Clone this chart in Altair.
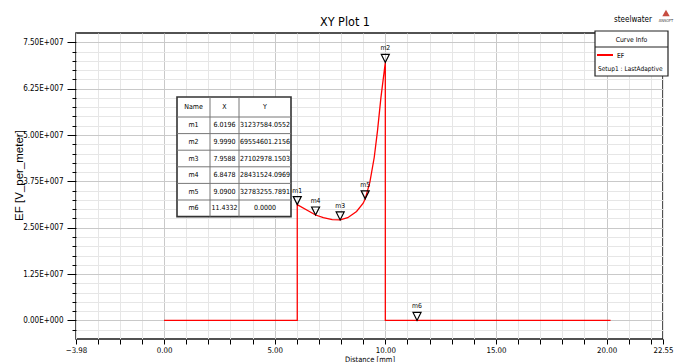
import altair as alt
import pandas as pd

# ---- field magnitude sampled along the line ----
distance_mm = [0.0, 6.0196, 6.0196, 6.8478, 7.2, 7.6, 7.9588, 8.3, 8.7, 9.0,
               9.09, 9.3, 9.5, 9.65, 9.8, 9.999, 10.0, 20.18]
ef_v_per_m = [0.0, 0.0, 31237584.0552, 28431524.0969, 27700000.0, 27200000.0,
              27102978.1503, 27700000.0, 29400000.0, 31600000.0, 32783255.7891,
              37200000.0, 44000000.0, 51300000.0, 60000000.0, 69554601.2156, 0.0, 0.0]

# ---- markers ----
marker_names = ["m1", "m2", "m3", "m4", "m5", "m6"]
marker_x = [6.0196, 9.9990, 7.9588, 6.8478, 9.0900, 11.4332]
marker_y = [31237584.0552, 69554601.2156, 27102978.1503, 28431524.0969, 32783255.7891, 0.0]

# ---- axes ----
x_domain = [-3.98, 22.55]
x_labelled = [-3.98, 0.0, 5.0, 10.0, 15.0, 20.0, 22.55]
y_domain = [-5000000, 77500000]
y_major_step = 12500000
y_minor_step = 2500000

plot_title = "XY Plot 1"
curve_name = "EF"
setup_name = "Setup1 : LastAdaptive"
project_name = "steelwater"

W, H = 587, 306
COND = "DejaVu Sans Condensed, Liberation Sans Narrow, sans-serif"
REGULAR = "Liberation Sans, Arial, sans-serif"

x_ticks = sorted(set(x_labelled) | set(range(-3, 23)))
y_ticks = [y_domain[0] + y_minor_step * k for k in range(1, 33)]

xs = alt.Scale(domain=x_domain, nice=False, zero=False)
ys = alt.Scale(domain=y_domain, nice=False, zero=False)

x_axis = alt.Axis(
    values=x_ticks,
    labelExpr="(abs(datum.value % 5) < 1e-6 || datum.value < -3.5 || datum.value > 22.2) ? format(datum.value, '.2f') : ''",
    tickSize=5, tickColor="black", tickWidth=1,
    labelFont=COND, labelFontSize=7.8, labelColor="black", labelPadding=2,
    labelFlush=False, labelOverlap=False, labelBound=False,
    grid=True,
    gridColor={"condition": {"test": "abs(datum.value % 5) < 1e-6", "value": "#c9c9c9"}, "value": "#e6e6e6"},
    gridWidth=1, domain=False,
    title="Distance [mm]", titleFont=COND, titleFontSize=7.5, titleFontWeight="normal",
    titleColor="black", titleBaseline="top", titleY=16,
)

y_axis = alt.Axis(
    values=y_ticks,
    labelExpr=("(abs(datum.value % 12500000) < 1 && datum.value >= 0) ? "
               "(datum.value == 0 ? '0.00E+000' : format(datum.value / 1e7, '.2f') + 'E+007') : ''"),
    tickSize={"condition": {"test": "abs(datum.value % 12500000) < 1", "value": 9}, "value": 4},
    tickColor="black", tickWidth=1,
    labelFont=COND, labelFontSize=8, labelColor="black", labelPadding=4,
    labelOverlap=False, labelBound=False,
    grid=True,
    gridColor={"condition": {"test": "abs(datum.value % 12500000) < 1", "value": "#c9c9c9"}, "value": "#e6e6e6"},
    gridWidth=1, domain=False,
    title="EF [V_per_meter]", titleFont=REGULAR, titleFontSize=11.5, titleFontWeight="normal",
    titleColor="black", titleX=-57, titleY=142, titleAlign="center", titleBaseline="middle",
)

curve_df = pd.DataFrame({"d": distance_mm, "ef": ef_v_per_m, "i": range(len(distance_mm))})
marker_df = pd.DataFrame({"name": marker_names, "d": marker_x, "ef": marker_y})

curve = alt.Chart(curve_df).mark_line(color="#ff0000", strokeWidth=1.3, clip=True).encode(
    x=alt.X("d:Q", scale=xs, axis=x_axis),
    y=alt.Y("ef:Q", scale=ys, axis=y_axis),
    order="i:Q",
)

markers = alt.Chart(marker_df).mark_point(
    shape="M-1,-2L1,-2L0,0Z", size=64, filled=False, stroke="black", strokeWidth=1.2, opacity=1
).encode(
    x=alt.X("d:Q", scale=xs, axis=None),
    y=alt.Y("ef:Q", scale=ys, axis=None),
)

marker_labels = alt.Chart(marker_df).mark_text(
    font=COND, fontSize=6.8, color="black", baseline="middle", yOffset=-14
).encode(
    x=alt.X("d:Q", scale=xs, axis=None),
    y=alt.Y("ef:Q", scale=ys, axis=None),
    text="name:N",
)

# ---- marker table (pixel layout inside the plot area) ----
T_LEFT, T_TOP = 101, 64
col_edges = [0, 33, 62, 114]
HEAD_H, ROW_H = 20, 16.6
row_edges = [0, HEAD_H] + [HEAD_H + ROW_H * (k + 1) for k in range(len(marker_names))]
T_BOTTOM = T_TOP + row_edges[-1]

cells = []
for c, head in enumerate(["Name", "X", "Y"]):
    cx = T_LEFT + (col_edges[c] + col_edges[c + 1]) / 2
    cells.append({"px": cx, "py": T_TOP + HEAD_H / 2, "t": head})
for r, (n, mx, my) in enumerate(zip(marker_names, marker_x, marker_y)):
    cy = T_TOP + (row_edges[r + 1] + row_edges[r + 2]) / 2
    for c, t in enumerate([n, f"{mx:.4f}", f"{my:.4f}"]):
        cx = T_LEFT + (col_edges[c] + col_edges[c + 1]) / 2
        cells.append({"px": cx, "py": cy, "t": t})
cells_df = pd.DataFrame(cells)

h_lines = pd.DataFrame({"x1": T_LEFT, "x2": T_LEFT + col_edges[-1],
                        "y1": [T_TOP + e for e in row_edges[1:-1]]})
v_lines = pd.DataFrame({"x1": [T_LEFT + e for e in col_edges[1:-1]],
                        "y1": T_TOP, "y2": T_BOTTOM})

table_box = alt.Chart(pd.DataFrame({"a": [0]})).mark_rect(
    fill="white", stroke="#333333", strokeWidth=1.6
).encode(
    x=alt.value(T_LEFT), x2=alt.value(T_LEFT + col_edges[-1]),
    y=alt.value(T_TOP), y2=alt.value(T_BOTTOM),
)
table_h = alt.Chart(h_lines).mark_rule(color="#777777", strokeWidth=1).encode(
    x=alt.X("x1:Q", scale=None, axis=None), x2="x2:Q",
    y=alt.Y("y1:Q", scale=None, axis=None),
)
table_v = alt.Chart(v_lines).mark_rule(color="#777777", strokeWidth=1).encode(
    x=alt.X("x1:Q", scale=None, axis=None),
    y=alt.Y("y1:Q", scale=None, axis=None), y2="y2:Q",
)
table_text = alt.Chart(cells_df).mark_text(
    font=COND, fontSize=7, color="black", baseline="middle", align="center"
).encode(
    x=alt.X("px:Q", scale=None, axis=None),
    y=alt.Y("py:Q", scale=None, axis=None),
    text="t:N",
)

# ---- curve info box ----
one = pd.DataFrame({"a": [0]})
L_X1, L_X2, L_Y1, L_Y2 = 519, 592, -2, 43
legend_box = alt.Chart(one).mark_rect(fill="white", stroke="#222222", strokeWidth=1.2).encode(
    x=alt.value(L_X1), x2=alt.value(L_X2), y=alt.value(L_Y1), y2=alt.value(L_Y2))
legend_div = alt.Chart(one).mark_rule(color="#222222", strokeWidth=1).encode(
    x=alt.value(L_X1), x2=alt.value(L_X2), y=alt.value(L_Y1 + 16))
legend_swatch = alt.Chart(one).mark_rule(color="#ff0000", strokeWidth=2).encode(
    x=alt.value(L_X1 + 2), x2=alt.value(L_X1 + 18), y=alt.value(L_Y1 + 24))
legend_head = alt.Chart(one).mark_text(font=COND, fontSize=6.8, color="black", align="center",
                                       baseline="middle", text="Curve Info").encode(
    x=alt.value((L_X1 + L_X2) / 2), y=alt.value(L_Y1 + 8.5))
legend_curve = alt.Chart(one).mark_text(font=COND, fontSize=6.8, color="black", align="left",
                                        baseline="middle", text=curve_name).encode(
    x=alt.value(L_X1 + 22), y=alt.value(L_Y1 + 24.5))
legend_setup = alt.Chart(one).mark_text(font=COND, fontSize=6.5, color="black", align="left",
                                        baseline="middle", text=setup_name).encode(
    x=alt.value(L_X1 + 3), y=alt.value(L_Y1 + 37.5))

# ---- heading, project name and logo ----
heading = alt.Chart(one).mark_text(font=COND, fontSize=12.5, color="black", align="center",
                                   baseline="alphabetic", text=plot_title).encode(
    x=alt.value(269), y=alt.value(-7))
proj = alt.Chart(one).mark_text(font=COND, fontSize=8, color="black", align="center",
                                baseline="middle", text=project_name).encode(
    x=alt.value(557), y=alt.value(-13))
logo = alt.Chart(one).mark_point(shape="triangle-up", size=55, filled=True, color="#c0392b",
                                 opacity=0.9).encode(x=alt.value(590), y=alt.value(-20))
logo_txt = alt.Chart(one).mark_text(font=COND, fontSize=4, color="#444444", align="center",
                                    baseline="middle", text="ANSOFT").encode(
    x=alt.value(590), y=alt.value(-12))

chart = alt.layer(
    curve, markers, marker_labels,
    table_box, table_h, table_v, table_text,
    legend_box, legend_div, legend_swatch, legend_head, legend_curve, legend_setup,
    heading, proj, logo, logo_txt,
).resolve_scale(
    x="independent", y="independent"
).properties(
    width=W, height=H,
    autosize=alt.AutoSizeParams(type="none"),
    padding={"left": 76, "top": 33, "right": 20, "bottom": 23},
    background="white",
).configure_view(
    stroke="#1a1a1a", strokeWidth=1.5
)

chart.save("out.html", embed_options={"renderer": "svg", "actions": False})
